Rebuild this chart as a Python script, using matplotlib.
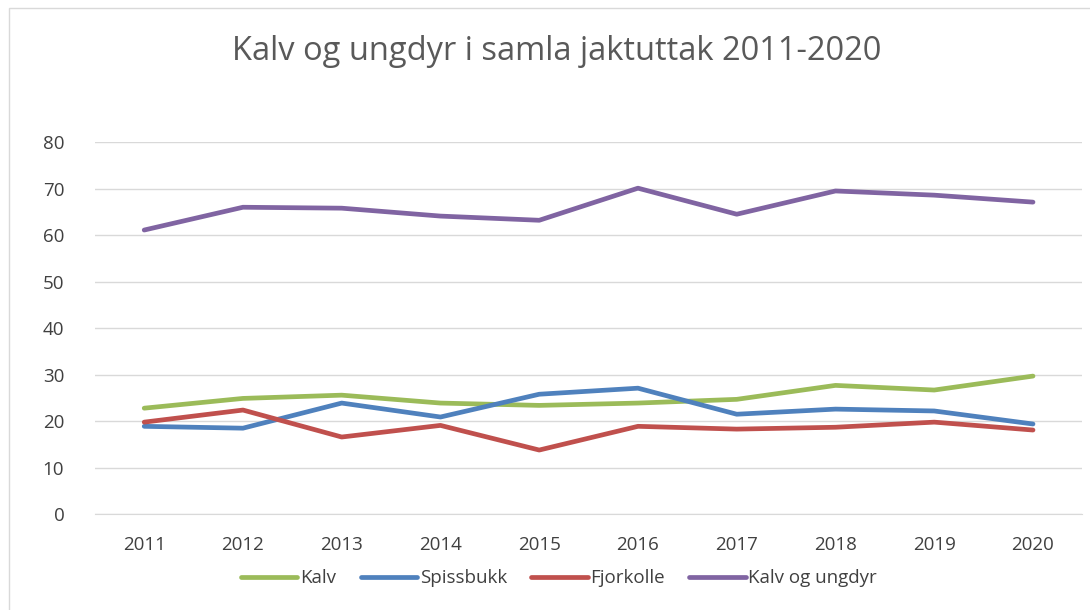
import matplotlib
matplotlib.use("Agg")
import matplotlib.pyplot as plt
from matplotlib.patches import Rectangle

years = ["2011", "2012", "2013", "2014", "2015", "2016", "2017", "2018", "2019", "2020"]
kalv = [22.8, 24.9, 25.6, 23.9, 23.4, 23.9, 24.7, 27.7, 26.7, 29.7]
spissbukk = [18.9, 18.5, 23.9, 20.9, 25.8, 27.1, 21.5, 22.6, 22.2, 19.4]
fjorkolle = [19.8, 22.4, 16.6, 19.1, 13.8, 18.9, 18.3, 18.7, 19.8, 18.1]
kalv_ungdyr = [61.1, 66.0, 65.8, 64.1, 63.2, 70.1, 64.5, 69.5, 68.6, 67.1]

series = [
    ("Kalv", kalv, "#9bbb59"),
    ("Spissbukk", spissbukk, "#4f81bd"),
    ("Fjorkolle", fjorkolle, "#c0504d"),
    ("Kalv og ungdyr", kalv_ungdyr, "#8064a2"),
]

plt.rcParams["font.family"] = ["Open Sans", "DejaVu Sans"]
text_color = "#595959"
label_color = "#404040"

fig = plt.figure(figsize=(10.9, 6.1), dpi=100)
fig.patches.append(Rectangle((0.008, -0.01), 1.0, 1.0 - 0.003, transform=fig.transFigure,
                             fill=False, edgecolor="#d9d9d9", linewidth=1))

ax = fig.add_axes([0.087, 0.157, 0.906, 0.61])
x = list(range(len(years)))
for name, vals, color in series:
    ax.plot(x, vals, color=color, linewidth=3.4, label=name, solid_capstyle="round")

ax.set_ylim(0, 80)
ax.set_xlim(-0.5, len(years) - 0.5)
ax.set_yticks(range(0, 81, 10))
ax.set_xticks(x)
ax.set_xticklabels(years)
ax.grid(axis="y", color="#d9d9d9", linewidth=1)
ax.set_axisbelow(True)
for s in ["top", "right", "left"]:
    ax.spines[s].set_visible(False)
ax.spines["bottom"].set_color("#d9d9d9")
ax.tick_params(length=0, labelsize=13.5, colors=label_color, pad=16)
ax.tick_params(axis="y", pad=22)

fig.text(0.511, 0.915, "Kalv og ungdyr i samla jaktuttak 2011-2020", ha="center", va="center",
         fontsize=23.5, color=text_color)

ax.legend(loc="center", bbox_to_anchor=(0.513, 0.052), bbox_transform=fig.transFigure, ncol=4,
          frameon=False, fontsize=13.5, labelcolor=label_color, handlelength=3.0,
          handletextpad=0.15, columnspacing=1.3)

fig.savefig("out.png", dpi=100)
